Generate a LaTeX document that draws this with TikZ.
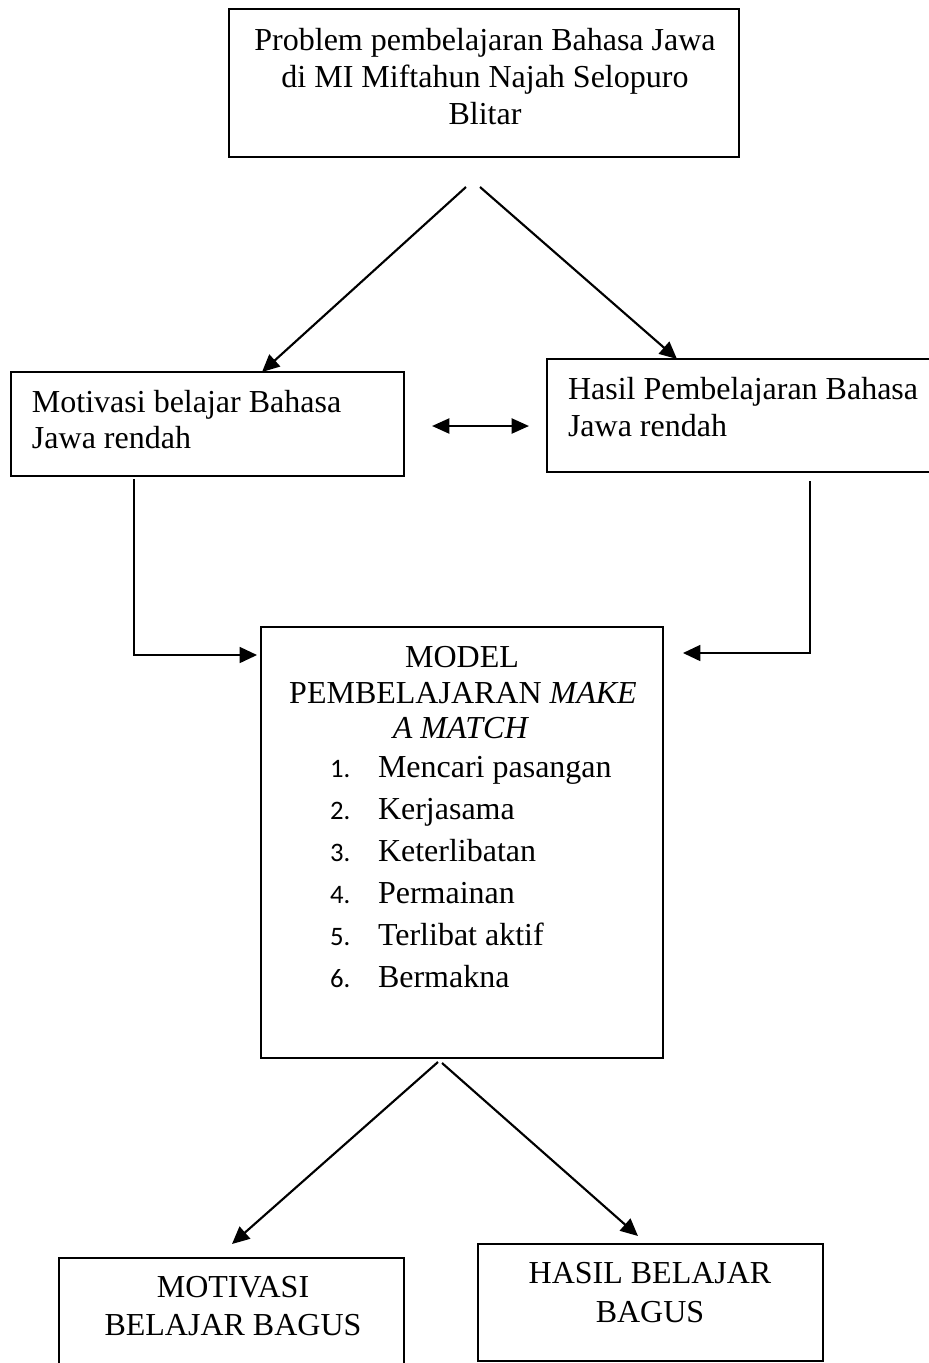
\documentclass[tikz,border=0pt]{standalone}
\usepackage{fontspec}
\setmainfont{Liberation Serif}
\newfontfamily\numfont{Carlito}
\usetikzlibrary{arrows.meta,calc,fit}
\begin{document}
\begin{tikzpicture}[x=0.375pt,y=-0.375pt,
  box/.style={draw,line width=0.85pt,inner sep=0pt,outer sep=0pt},
  txt/.style={inner sep=0pt,outer sep=0pt,font=\fontsize{12}{13.8}\selectfont},
  ctxt/.style={txt,anchor=base},
  ltxt/.style={txt,anchor=base west},
  num/.style={inner sep=0pt,outer sep=0pt,anchor=base west,font=\numfont\fontsize{10}{12}\selectfont},
  con/.style={line width=0.8pt,-{Triangle[length=6.5pt,width=6pt]}},
  dcon/.style={line width=0.9pt,{Triangle[length=6.5pt,width=5.6pt]}-{Triangle[length=6.5pt,width=5.6pt]}}]
\useasboundingbox (0,0) rectangle (929,1363);

% boxes
\node[box,fit={(229,9) (739,157)}] (top) {};
\node[box,fit={(11,372) (404,476)}] (left) {};
\node[box,fit={(547,359) (940,472)}] (right) {};
\node[box,fit={(261,627) (663,1058)}] (mid) {};
\node[box,fit={(59,1258) (404,1375)}] (botL) {};
\node[box,fit={(478,1244) (823,1361)}] (botR) {};

% texts
\node[ctxt] (top1) at (485,50) {Problem pembelajaran Bahasa Jawa};
\node[ctxt] (top2) at (485,87) {di MI Miftahun Najah Selopuro};
\node[ctxt] (top3) at (485,124) {Blitar};

\node[ltxt] (left1) at (32,412) {Motivasi belajar Bahasa};
\node[ltxt] (left2) at (32,448) {Jawa rendah};

\node[ltxt] (right1) at (568,399) {Hasil Pembelajaran Bahasa};
\node[ltxt] (right2) at (568,436) {Jawa rendah};

\node[ctxt] (mid1) at (462,667) {MODEL};
\node[ctxt] (mid2) at (463,703) {PEMBELAJARAN \textit{MAKE}};
\node[ctxt] (mid3) at (461,738) {\textit{A MATCH}};

\node[num] (n1) at (330,777) {1.};
\node[ltxt] (i1) at (378,777) {Mencari pasangan};
\node[num] (n2) at (330,819) {2.};
\node[ltxt] (i2) at (378,819) {Kerjasama};
\node[num] (n3) at (330,861) {3.};
\node[ltxt] (i3) at (378,861) {Keterlibatan};
\node[num] (n4) at (330,903) {4.};
\node[ltxt] (i4) at (378,903) {Permainan};
\node[num] (n5) at (330,945) {5.};
\node[ltxt] (i5) at (378,945) {Terlibat aktif};
\node[num] (n6) at (330,987) {6.};
\node[ltxt] (i6) at (378,987) {Bermakna};

\node[ctxt] (bl1) at (233,1297) {MOTIVASI};
\node[ctxt] (bl2) at (233,1335) {BELAJAR BAGUS};
\node[ctxt] (br1) at (650,1283) {HASIL BELAJAR};
\node[ctxt] (br2) at (650,1322) {BAGUS};

% connectors
\draw[con] ($(top.south west)+(237,30)$) -- ($(left.north west)+(251,0)$);
\draw[con] ($(top.south west)+(251,30)$) -- ($(right.north west)+(130,0)$);

\coordinate (dl) at (432,426);
\coordinate (dr) at (529,426);
\draw[dcon] (dl) -- (dr);

\draw[con,line width=0.6pt] ($(left.south west)+(123,3)$) |- ($(mid.north west)+(-4,28)$);
\draw[con,line width=0.6pt] ($(right.south west)+(263,9)$) |- ($(mid.north east)+(20,26)$);

\draw[con] ($(mid.south west)+(177,4)$) -- ($(botL.north west)+(173,-14)$);
\draw[con] ($(mid.south west)+(181,5)$) -- ($(botR.north west)+(160,-8)$);
\end{tikzpicture}
\end{document}
